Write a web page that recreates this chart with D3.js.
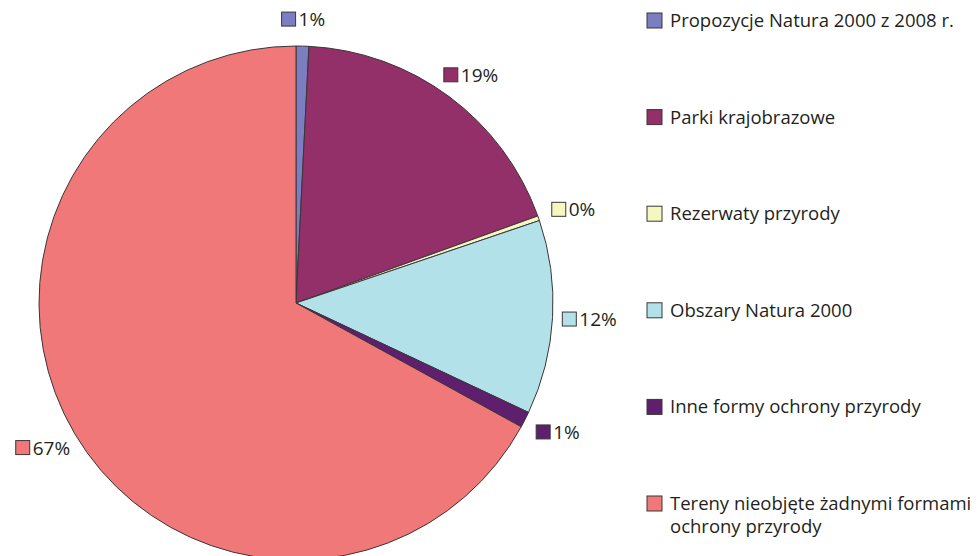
<!DOCTYPE html>
<html>
<head>
<meta charset="utf-8">
<script src="https://cdn.jsdelivr.net/npm/d3@7"></script>
<style>
  body { margin: 0; background: #fff; }
  svg { display: block; font-family: "Open Sans", sans-serif; }
</style>
</head>
<body>
<div id="chart"></div>
<script>
const categories = [
  "Propozycje Natura 2000 z 2008 r.",
  "Parki krajobrazowe",
  "Rezerwaty przyrody",
  "Obszary Natura 2000",
  "Inne formy ochrony przyrody",
  "Tereny nieobjęte żadnymi formami ochrony przyrody"
];
const shares = [0.8, 18.7, 0.3, 12.2, 1.0, 67.0];
const shareLabels = ["1%", "19%", "0%", "12%", "1%", "67%"];
const colors = ["#7b7fc2", "#932f69", "#f6f6c0", "#b3e1e9", "#5f1f6f", "#f17878"];

const width = 978, height = 556;
const cx = 296, cy = 303, radius = 257;

const svg = d3.select("#chart").append("svg")
  .attr("width", width)
  .attr("height", height);

const data = categories.map((c, i) => ({ name: c, value: shares[i], label: shareLabels[i], color: colors[i] }));

const pie = d3.pie().sort(null).value(d => d.value);
const arc = d3.arc().innerRadius(0).outerRadius(radius);
const labelArc = d3.arc().innerRadius(294).outerRadius(294);

const g = svg.append("g").attr("transform", `translate(${cx},${cy})`);
const arcs = pie(data);

g.selectAll("path.slice")
  .data(arcs)
  .enter().append("path")
  .attr("class", "slice")
  .attr("d", arc)
  .attr("fill", d => d.data.color)
  .attr("stroke", "#3b3638")
  .attr("stroke-width", 1);

// percentage labels, centred on a point outside the pie
const lbl = g.selectAll("g.lbl")
  .data(arcs)
  .enter().append("g")
  .attr("class", "lbl");

lbl.append("rect")
  .attr("width", 14)
  .attr("height", 14)
  .attr("fill", d => d.data.color)
  .attr("stroke", "#3b3638")
  .attr("stroke-width", 1);

lbl.append("text")
  .attr("x", 17)
  .attr("y", 14)
  .style("font-size", "19px")
  .style("fill", "#231f20")
  .text(d => d.data.label);

lbl.attr("transform", function(d) {
  const [x, y] = labelArc.centroid(d);
  const w = this.getBBox().width;
  // labels sit a bit closer to the pie at top/bottom
  return `translate(${x - w / 2},${y * 284 / 294 - 7})`;
});

// legend
const y = d3.scalePoint().domain(categories).range([20, 503]);
const legend = svg.append("g").attr("transform", "translate(647,0)");

const item = legend.selectAll("g.item")
  .data(data)
  .enter().append("g")
  .attr("class", "item")
  .attr("transform", d => `translate(0,${y(d.name)})`);

item.append("rect")
  .attr("y", -7)
  .attr("width", 15)
  .attr("height", 15)
  .attr("fill", d => d.color)
  .attr("stroke", "#3b3638")
  .attr("stroke-width", 1);

item.append("text")
  .attr("x", 23)
  .attr("y", 7)
  .style("font-size", "18.5px")
  .style("fill", "#231f20")
  .each(function(d) {
    // wrap long names onto extra lines
    const t = d3.select(this);
    const words = d.name.split(" ");
    let line = [];
    let tspan = t.append("tspan").attr("x", 23);
    words.forEach(w => {
      line.push(w);
      tspan.text(line.join(" "));
      if (tspan.node().getComputedTextLength() > 308 && line.length > 1) {
        line.pop();
        tspan.text(line.join(" "));
        line = [w];
        tspan = t.append("tspan").attr("x", 23).attr("dy", 23).text(w);
      }
    });
  });
</script>
</body>
</html>
